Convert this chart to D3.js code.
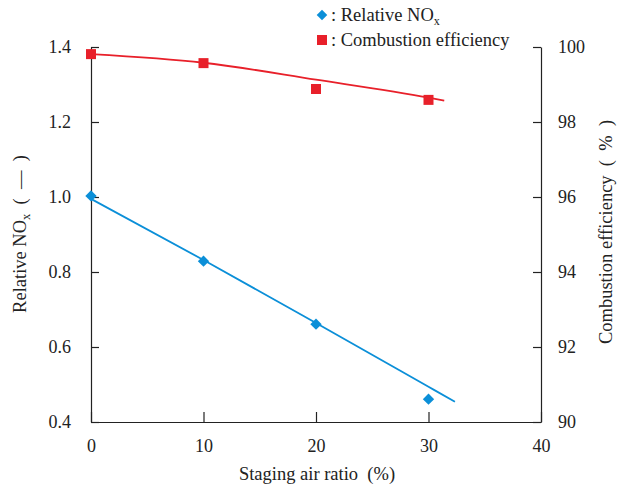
<!DOCTYPE html>
<html>
<head>
<meta charset="UTF-8">
<script src="https://d3js.org/d3.v7.min.js"></script>
<style>
  body { margin: 0; background: #fff; }
  svg text { font-family: "Liberation Serif", "Times New Roman", Times, serif !important; fill: #222; }
</style>
</head>
<body>
<svg id="chart" width="621" height="488"></svg>
<script>
// data
const stagingRatio = [0, 10, 20, 30];
const relativeNOx = [1.003, 0.829, 0.661, 0.461];
const combustionEff = [99.81, 99.57, 98.88, 98.59];
// fitted curves as drawn
const noxTrendX = [0, 10, 20, 30, 32.35];
const noxTrendY = [0.995, 0.832, 0.664, 0.494, 0.454];
const effTrendX = [0, 10, 20, 30, 31.4];
const effTrendY = [99.81, 99.58, 99.13, 98.65, 98.57];
const xTicks = [0, 10, 20, 30, 40];
const leftTicks = [0.4, 0.6, 0.8, 1.0, 1.2, 1.4];
const rightTicks = [90, 92, 94, 96, 98, 100];

const blue = "#0b8fd8", red = "#e8202a";
const serif = "'Liberation Serif', 'Times New Roman', Times, serif";
const svg = d3.select("#chart").attr("font-family", serif);
const m = { left: 91, right: 80, top: 47, bottom: 66 };
const W = 621, H = 488;

const x = d3.scaleLinear().domain([0, 40]).range([m.left, W - m.right]);
const yL = d3.scaleLinear().domain([0.4, 1.4]).range([H - m.bottom, m.top]);
const yR = d3.scaleLinear().domain([90, 100]).range([H - m.bottom, m.top]);

function styleAxis(g) {
  g.attr("font-family", serif);
  g.selectAll("path").attr("stroke", "#222").attr("stroke-width", 1.2);
  g.selectAll("line").attr("stroke", "#222").attr("stroke-width", 1.2);
  g.selectAll("text").style("font-size", "18px").attr("fill", "#222");
}

svg.append("g").attr("transform", `translate(0,${H - m.bottom})`)
  .call(d3.axisBottom(x).tickValues(xTicks).tickSize(-10).tickSizeOuter(0).tickPadding(17).tickFormat(d3.format("d")))
  .call(styleAxis);

svg.append("g").attr("transform", `translate(${m.left},0)`)
  .call(d3.axisLeft(yL).tickValues(leftTicks).tickSize(-8).tickSizeOuter(0).tickPadding(20).tickFormat(d3.format(".1f")))
  .call(styleAxis);

svg.append("g").attr("transform", `translate(${W - m.right},0)`)
  .call(d3.axisRight(yR).tickValues(rightTicks).tickSize(-8).tickSizeOuter(0).tickPadding(17).tickFormat(d3.format("d")))
  .call(styleAxis);

// trend lines
const noxLine = d3.line().curve(d3.curveMonotoneX).x(d => x(d[0])).y(d => yL(d[1]));
const effLine = d3.line().curve(d3.curveMonotoneX).x(d => x(d[0])).y(d => yR(d[1]));

svg.append("path").datum(d3.zip(noxTrendX, noxTrendY))
  .attr("d", noxLine).attr("fill", "none").attr("stroke", blue).attr("stroke-width", 1.8);
svg.append("path").datum(d3.zip(effTrendX, effTrendY))
  .attr("d", effLine).attr("fill", "none").attr("stroke", red).attr("stroke-width", 1.8);

// markers: diamonds as rotated squares
const sq = d3.symbol().type(d3.symbolSquare).size(64);
svg.selectAll(".nox").data(d3.zip(stagingRatio, relativeNOx)).enter()
  .append("path").attr("d", sq)
  .attr("transform", d => `translate(${x(d[0])},${yL(d[1])}) rotate(45)`)
  .attr("fill", blue);

svg.selectAll(".eff").data(d3.zip(stagingRatio, combustionEff)).enter()
  .append("rect")
  .attr("x", d => x(d[0]) - 5).attr("y", d => yR(d[1]) - 5)
  .attr("width", 10).attr("height", 10).attr("fill", red);

// legend
svg.append("path").attr("d", d3.symbol().type(d3.symbolSquare).size(56))
  .attr("transform", "translate(322,15) rotate(45)").attr("fill", blue);
const l1 = svg.append("text").attr("x", 331).attr("y", 21).style("font-size", "18.5px");
l1.append("tspan").text(": Relative NO");
l1.append("tspan").attr("dy", 4).style("font-size", "12px").text("x");

svg.append("rect").attr("x", 317).attr("y", 35).attr("width", 10).attr("height", 10).attr("fill", red);
svg.append("text").attr("x", 331).attr("y", 46).style("font-size", "18.5px").text(": Combustion efficiency");

// axis titles
svg.append("text").attr("x", 317).attr("y", 480).attr("text-anchor", "middle")
  .style("font-size", "18.5px").text("Staging air ratio\u00a0\u00a0(%)");

const yt = svg.append("text").attr("transform", "translate(26,234) rotate(-90)")
  .attr("text-anchor", "middle").style("font-size", "18.5px");
yt.append("tspan").text("Relative NO");
yt.append("tspan").attr("dy", 4).style("font-size", "12.5px").text("x");
yt.append("tspan").attr("dy", -4).text("\u00a0\u00a0(\u2002\u2014\u2002)");

svg.append("text").attr("transform", "translate(612,232) rotate(-90)")
  .attr("text-anchor", "middle").style("font-size", "18.5px").text("Combustion efficiency\u00a0\u00a0(\u2002%\u2002)");
</script>
</body>
</html>
